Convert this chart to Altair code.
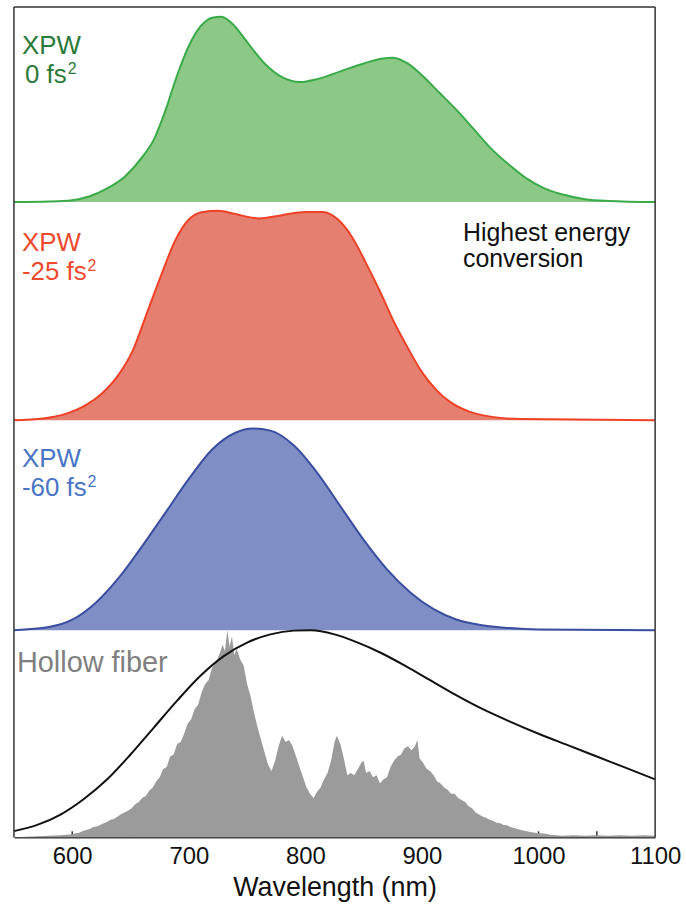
import altair as alt
import pandas as pd

# ---- spectra (wavelength in nm, normalised intensity) ----
xpw0_nm = [550, 580, 600, 615, 630, 645, 660, 670, 680, 690, 700, 710, 720, 728, 738, 750, 765,
           780, 795, 810, 830, 850, 865, 875, 888, 900, 915, 930, 945, 960, 975, 990, 1005,
           1020, 1040, 1060, 1100]
xpw0_val = [0, 0.003, 0.01, 0.03, 0.07, 0.13, 0.23, 0.32, 0.47, 0.65, 0.80, 0.90, 0.945, 0.95,
            0.91, 0.82, 0.71, 0.64, 0.615, 0.63, 0.67, 0.71, 0.735, 0.74, 0.71, 0.65, 0.56, 0.47,
            0.37, 0.27, 0.19, 0.12, 0.07, 0.04, 0.015, 0.006, 0]

xpw25_nm = [550, 575, 595, 612, 625, 640, 652, 664, 676, 688, 700, 712, 725, 740, 760, 780, 800,
            815, 828, 840, 852, 864, 876, 888, 900, 912, 925, 940, 960, 985, 1100]
xpw25_val = [0, 0.008, 0.03, 0.07, 0.12, 0.21, 0.32, 0.49, 0.66, 0.82, 0.92, 0.955, 0.96, 0.945,
             0.925, 0.94, 0.955, 0.955, 0.92, 0.84, 0.72, 0.59, 0.45, 0.33, 0.22, 0.14, 0.08,
             0.04, 0.015, 0.005, 0]

xpw60_nm = [550, 580, 600, 620, 640, 660, 680, 700, 720, 740, 755, 770, 790, 810, 830, 850, 870,
            890, 910, 930, 950, 975, 1000, 1100]
xpw60_val = [0, 0.015, 0.05, 0.13, 0.25, 0.40, 0.56, 0.72, 0.86, 0.94, 0.96, 0.95, 0.88, 0.75,
             0.59, 0.43, 0.29, 0.18, 0.10, 0.05, 0.025, 0.01, 0.003, 0]

# reference envelope of the hollow-fiber output
env_nm = [550, 570, 590, 610, 630, 650, 670, 690, 710, 730, 750, 770, 790, 805, 825, 845, 865,
          885, 905, 925, 950, 975, 1000, 1025, 1050, 1075, 1100]
env_val = [0.03, 0.06, 0.11, 0.185, 0.28, 0.40, 0.53, 0.66, 0.78, 0.875, 0.94, 0.98, 0.998, 1.0,
           0.98, 0.94, 0.89, 0.83, 0.765, 0.70, 0.625, 0.56, 0.50, 0.445, 0.39, 0.335, 0.28]

# measured hollow-fiber spectrum
hf_nm = [550, 560, 570, 580, 590,
         600, 603, 606, 609, 612, 615, 618, 621, 624, 627, 630, 633, 636, 639, 642, 645, 648,
         651, 654, 657, 660, 663, 666, 669, 672, 675, 678, 681, 684, 687, 690, 693, 696, 699,
         702, 705, 708, 711, 714, 717, 720, 723, 726, 729, 731, 733, 735, 737, 739, 741, 744,
         747, 750, 753, 756, 759, 762, 765, 768, 771, 774, 777, 780, 783, 786, 789, 792, 795,
         798, 801, 804, 807, 810, 813, 816, 819, 822, 825, 827, 830, 833, 836, 839, 842, 845,
         848, 850, 852, 855, 858, 861, 864, 867, 870, 873, 876, 879, 882, 885, 888, 891, 894,
         896, 898, 901, 904, 907, 910, 913, 916, 919, 922, 925, 928, 931, 934, 937, 940, 943,
         946, 949, 952, 955, 958, 961, 964, 967, 970, 973, 976, 979, 982, 985, 988, 991, 994,
         997, 1000, 1005, 1010, 1015, 1020, 1030, 1040, 1050, 1060, 1070, 1080, 1090, 1100]
hf_val = [0.0, 0.003, 0.005, 0.008, 0.01,
          0.015, 0.02, 0.022, 0.03, 0.035, 0.04, 0.05, 0.052, 0.06, 0.068, 0.075, 0.085, 0.09,
          0.10, 0.112, 0.12, 0.13, 0.14, 0.16, 0.17, 0.19, 0.20, 0.225, 0.24, 0.27, 0.29, 0.33,
          0.34, 0.39, 0.40, 0.45, 0.46, 0.50, 0.55, 0.57, 0.62, 0.64, 0.70, 0.74, 0.76, 0.82,
          0.84, 0.88, 0.93, 0.90, 1.0, 0.92, 0.97, 0.88, 0.91, 0.86, 0.83, 0.74, 0.68, 0.60,
          0.53, 0.47, 0.41, 0.35, 0.32, 0.37, 0.44, 0.49, 0.46, 0.47, 0.44, 0.39, 0.34, 0.29,
          0.24, 0.21, 0.19, 0.22, 0.24, 0.28, 0.31, 0.37, 0.46, 0.49, 0.45, 0.38, 0.30, 0.31,
          0.30, 0.33, 0.36, 0.37, 0.31, 0.32, 0.29, 0.30, 0.26, 0.28, 0.29, 0.34, 0.37, 0.39,
          0.40, 0.43, 0.44, 0.42, 0.44, 0.47, 0.38, 0.36, 0.33, 0.32, 0.30, 0.27, 0.26, 0.24,
          0.23, 0.21, 0.21, 0.19, 0.18, 0.17, 0.15, 0.14, 0.12, 0.11, 0.10, 0.095, 0.085, 0.08,
          0.07, 0.068, 0.06, 0.058, 0.05, 0.045, 0.04, 0.035, 0.032, 0.028, 0.025, 0.022, 0.02,
          0.018, 0.012, 0.01, 0.008, 0.01, 0.007, 0.01, 0.008, 0.01, 0.008, 0.01, 0.008]

tick_nm = [600, 650, 700, 750, 800, 850, 900, 950, 1000, 1050]
label_nm = [600, 700, 800, 900, 1000, 1100]

FONT = "Liberation Sans"
W = 644
XDOM = [550, 1100]
xscale = alt.Scale(domain=XDOM, nice=False, zero=False)
yscale = alt.Scale(domain=[0, 1], nice=False, zero=False)
one = pd.DataFrame({"k": [0]})
FRAME = "#333333"


def frame(h, top=False):
    layers = [
        alt.Chart(one).mark_rule(color=FRAME, strokeWidth=1.5).encode(
            x=alt.value(0), y=alt.value(0), y2=alt.value(h)),
        alt.Chart(one).mark_rule(color=FRAME, strokeWidth=1.5).encode(
            x=alt.value(W), y=alt.value(0), y2=alt.value(h)),
    ]
    if top:
        layers.append(alt.Chart(one).mark_rule(color=FRAME, strokeWidth=1.5).encode(
            x=alt.value(0), x2=alt.value(W), y=alt.value(0)))
    return layers


def label(txt, x, y, size, color):
    return alt.Chart(one).mark_text(align="left", baseline="alphabetic", font=FONT,
                                    fontSize=size, color=color).encode(
        x=alt.value(x), y=alt.value(y), text=alt.value(txt))


def xpw_panel(nm, val, fill, stroke, tcolor, h, y1, line2, sup_x, extra=None):
    df = pd.DataFrame({"nm": nm, "v": val})
    area = alt.Chart(df).mark_area(
        interpolate="monotone", color=fill, opacity=1,
        line={"color": stroke, "strokeWidth": 2},
    ).encode(
        x=alt.X("nm:Q", scale=xscale, axis=None),
        y=alt.Y("v:Q", scale=yscale, axis=None),
    )
    layers = [area] + frame(h, top=(extra == "top"))
    layers += [
        label("XPW", 8, y1, 26, tcolor),
        label(line2[0], line2[1], y1 + 29, 26, tcolor),
        label("2", sup_x, y1 + 20, 16, tcolor),
    ]
    if extra == "note":
        layers += [
            label("Highest energy", 451, 39, 25, "#111111"),
            label("conversion", 451, 65, 25, "#111111"),
        ]
    return alt.layer(*layers).properties(width=W, height=h)


green = xpw_panel(xpw0_nm, xpw0_val, "#8cc886", "#3aab48", "#2c7a3a", 196, 47,
                  ("0 fs", 11), 54, extra="top")
red = xpw_panel(xpw25_nm, xpw25_val, "#e57f70", "#ee4227", "#ee4a2e", 219, 49,
                ("-25 fs", 8), 74, extra="note")
blue = xpw_panel(xpw60_nm, xpw60_val, "#7f8fc6", "#3a4d9f", "#4a74c4", 211, 47,
                 ("-60 fs", 8), 74)

# bottom panel: hollow-fiber spectrum with its envelope
HB = 208
hf = pd.DataFrame({"nm": hf_nm, "v": hf_val})
env = pd.DataFrame({"nm": env_nm, "v": env_val})
ticks = pd.DataFrame({"nm": tick_nm})

xaxis = alt.Axis(
    values=label_nm, format="d", tickSize=0, domain=True, domainColor=FRAME, domainWidth=1.5,
    grid=False, labelFont=FONT, labelFontSize=24, labelColor="#111111", labelPadding=7,
    labelFlush=False, title="Wavelength (nm)", titleFont=FONT, titleFontSize=27,
    titleFontWeight="normal", titleColor="#111111", titlePadding=6,
)

tick_marks = alt.Chart(ticks).mark_rule(color=FRAME, strokeWidth=1.5).encode(
    x=alt.X("nm:Q", scale=xscale, axis=xaxis),
    y=alt.value(HB), y2=alt.value(HB - 6),
)
hf_area = alt.Chart(hf).mark_area(interpolate="linear", color="#9b9b9b", opacity=1).encode(
    x=alt.X("nm:Q", scale=xscale),
    y=alt.Y("v:Q", scale=yscale, axis=None),
)
env_line = alt.Chart(env).mark_line(interpolate="monotone", color="#111111", strokeWidth=2).encode(
    x=alt.X("nm:Q", scale=xscale),
    y=alt.Y("v:Q", scale=yscale, axis=None),
)
bottom = alt.layer(
    tick_marks, hf_area, env_line, *frame(HB),
    label("Hollow fiber", 3, 42, 29, "#808080"),
).properties(width=W, height=HB)

chart = alt.vconcat(green, red, blue, bottom, spacing=0, bounds="flush").properties(
    padding={"left": 10, "top": 4, "right": 5, "bottom": 0}
).configure_view(stroke=None)

chart.save("out.html", embed_options={"renderer": "svg", "actions": False})
